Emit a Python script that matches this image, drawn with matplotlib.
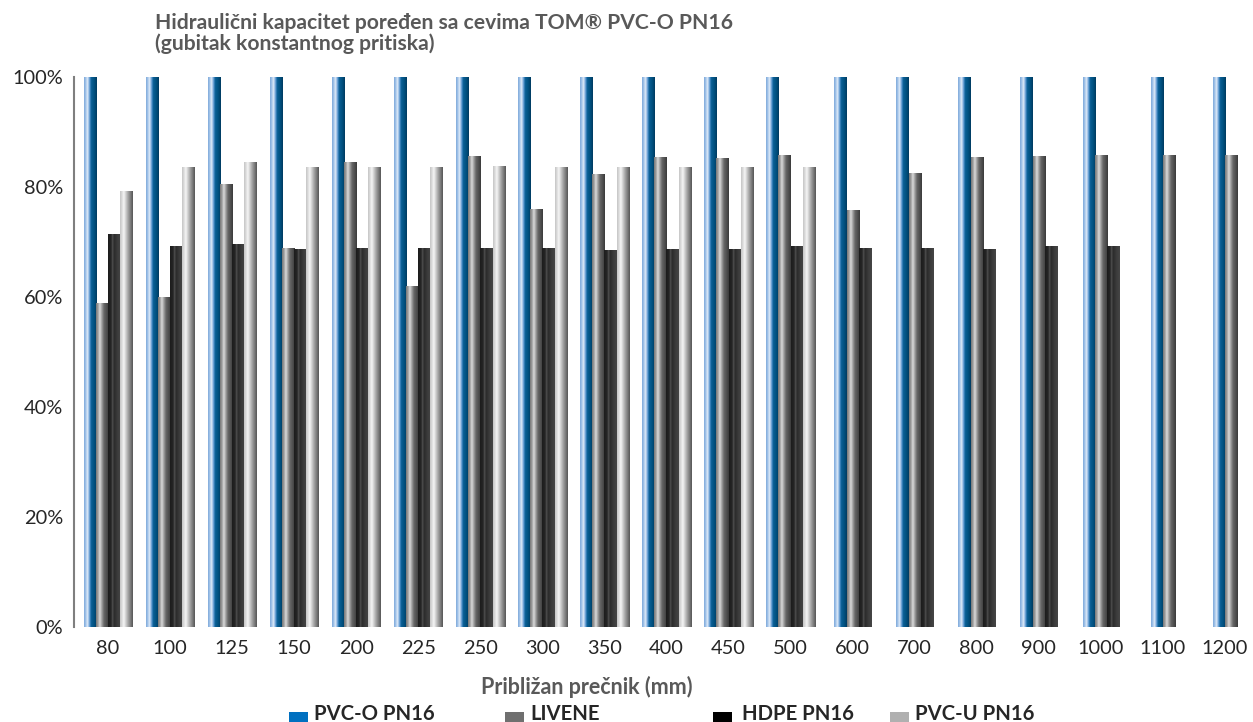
import numpy as np
import matplotlib
matplotlib.use("Agg")
import matplotlib.pyplot as plt
from matplotlib.colors import LinearSegmentedColormap
from matplotlib.patches import Rectangle

plt.rcParams['font.family'] = ['Lato', 'DejaVu Sans']

categories = ["80", "100", "125", "150", "200", "225", "250", "300", "350", "400",
              "450", "500", "600", "700", "800", "900", "1000", "1100", "1200"]
nan = np.nan
pvco = [1.0] * 19
livene = [0.589, 0.599, 0.804, 0.689, 0.844, 0.620, 0.855, 0.760, 0.822, 0.853,
          0.851, 0.858, 0.758, 0.824, 0.853, 0.856, 0.858, 0.858, 0.858]
hdpe = [0.713, 0.691, 0.695, 0.687, 0.689, 0.689, 0.689, 0.689, 0.685, 0.687,
        0.687, 0.691, 0.689, 0.689, 0.687, 0.691, 0.691, nan, nan]
pvcu = [0.791, 0.836, 0.845, 0.836, 0.836, 0.836, 0.838, 0.836, 0.835, 0.836,
        0.836, 0.836, nan, nan, nan, nan, nan, nan, nan]
series_names = ["PVC-O PN16", "LIVENE", "HDPE PN16", "PVC-U PN16"]
series_values = [pvco, livene, hdpe, pvcu]
legend_colors = ["#0070c0", "#6f6f6f", "#000000", "#b0b0b0"]
yticks = [0, 0.2, 0.4, 0.6, 0.8, 1.0]
ytick_labels = ["0%", "20%", "40%", "60%", "80%", "100%"]

gradients = [
    [(0.0, "#7ea9da"), (0.15, "#a5c6ea"), (0.27, "#e4eef9"), (0.38, "#8fb6e3"),
     (0.48, "#3f86c0"), (0.56, "#0b5f96"), (0.8, "#00507f"), (1.0, "#003a5f")],
    [(0.0, "#767676"), (0.15, "#9c9c9c"), (0.3, "#dcdcdc"), (0.42, "#acacac"),
     (0.62, "#666666"), (1.0, "#3a3a3a")],
    [(0.0, "#1c1c1c"), (0.25, "#262626"), (0.36, "#555555"), (0.46, "#2a2a2a"),
     (0.7, "#3a3a3a"), (1.0, "#464646")],
    [(0.0, "#c4c4c4"), (0.18, "#e0e0e0"), (0.3, "#f6f6f6"), (0.45, "#cfcfcf"),
     (0.7, "#949494"), (1.0, "#555555")],
]
cmaps = [LinearSegmentedColormap.from_list("g%d" % i, g) for i, g in enumerate(gradients)]

W, H = 1253, 722
fig = plt.figure(figsize=(W / 100, H / 100), dpi=100)
ax_left, ax_right, ax_top, ax_bottom = 74, 1253, 77, 627
ax = fig.add_axes([ax_left / W, (H - ax_bottom) / H, (ax_right - ax_left) / W,
                   (ax_bottom - ax_top) / H])

n_cat = len(categories)
x = np.arange(n_cat)
bw = 0.197
grad_row = np.linspace(0, 1, 256).reshape(1, -1)

arr = np.array(series_values, dtype=float)
counts = np.sum(~np.isnan(arr), axis=0)

for s, vals in enumerate(series_values):
    v = np.array(vals, dtype=float)
    mask = ~np.isnan(v)
    offs = (s - (counts - 1) / 2.0) * bw
    bars = ax.bar(x[mask] + offs[mask], v[mask], width=bw, facecolor='none',
                  edgecolor='none', zorder=2)
    for p in bars.patches:
        x0, w, h = p.get_x(), p.get_width(), p.get_height()
        ax.imshow(grad_row, extent=[x0, x0 + w, 0, h], aspect='auto',
                  cmap=cmaps[s], interpolation='bilinear', zorder=2)

ax.set_xlim(-0.548, n_cat - 0.548)
ax.set_ylim(0, 1)
ax.set_xticks(x)
ax.set_xticklabels(categories)
ax.set_yticks(yticks)
ax.set_yticklabels(ytick_labels)
ax.tick_params(axis='both', length=0, labelsize=14.4, colors="#262626")
ax.tick_params(axis='x', pad=9)
ax.tick_params(axis='y', pad=8)
for side in ['top', 'right', 'bottom']:
    ax.spines[side].set_visible(False)
ax.spines['left'].set_color("#7f7f7f")
ax.spines['left'].set_linewidth(1.5)

ax.set_xlabel("Približan prečnik (mm)", fontsize=15.5, fontweight='bold',
              color="#595959", va='center')
ax.xaxis.set_label_coords((587 - ax_left) / (ax_right - ax_left),
                          (ax_bottom - 687) / (ax_bottom - ax_top))

fig.text(155 / W, 1 - 13 / H,
         "Hidraulični kapacitet poređen sa cevima TOM® PVC-O PN16\n(gubitak konstantnog pritiska)",
         fontsize=15.2, fontweight='bold', color="#595959", va='top', ha='left',
         linespacing=1.0)

leg_sq_x = [289, 505, 713, 890]
leg_txt_x = [314, 530, 742, 915]
for name, c, sx, tx in zip(series_names, legend_colors, leg_sq_x, leg_txt_x):
    fig.patches.append(Rectangle((sx / W, 1 - 731 / H), 19 / W, 19 / H,
                                 transform=fig.transFigure, facecolor=c,
                                 edgecolor='none'))
    fig.text(tx / W, 1 - 720 / H, name, fontsize=14.6, fontweight='bold',
             color="#262626", va='baseline', ha='left')

fig.savefig("out.png", dpi=100)
